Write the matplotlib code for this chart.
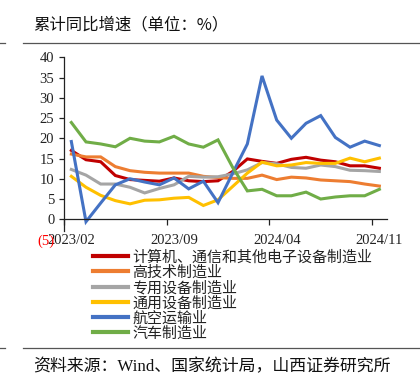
import matplotlib
matplotlib.use("Agg")
import matplotlib.pyplot as plt
from matplotlib.lines import Line2D

plt.rcParams['font.family'] = ['Noto Sans CJK SC', 'DejaVu Sans']

months = ["2023/02", "2023/03", "2023/04", "2023/05", "2023/06", "2023/07", "2023/08",
          "2023/09", "2023/10", "2023/11", "2023/12", "2024/01", "2024/02", "2024/03",
          "2024/04", "2024/05", "2024/06", "2024/07", "2024/08", "2024/09", "2024/10",
          "2024/11"]

computer = [17.0, 14.7, 14.2, 10.8, 9.8, 9.6, 9.4, 10.2, 9.5, 9.3, 9.5, 11.8, 14.9, 14.3,
            13.8, 14.8, 15.3, 14.6, 14.2, 13.2, 13.2, 12.6]
hightech = [16.1, 15.4, 15.4, 13.0, 12.0, 11.6, 11.4, 11.4, 11.4, 10.6, 10.3, 10.1, 10.1,
            10.9, 9.8, 10.4, 10.2, 9.7, 9.5, 9.3, 8.7, 8.2]
special = [12.3, 10.9, 8.7, 8.7, 7.9, 6.5, 7.6, 8.5, 10.6, 10.4, 10.5, 11.2, 12.2, 14.0,
           13.7, 12.8, 12.6, 13.4, 13.0, 12.1, 12.0, 11.8]
general = [10.6, 7.9, 5.9, 4.6, 3.8, 4.7, 4.8, 5.2, 5.4, 3.4, 4.8, 8.1, 11.4, 14.1, 13.2,
           13.4, 14.0, 13.8, 13.8, 15.1, 14.2, 15.1]
aviation = [19.2, -0.6, 4.0, 8.5, 10.0, 9.2, 8.5, 10.2, 7.5, 9.4, 4.1, 11.4, 18.6, 35.4,
            24.5, 20.0, 23.7, 25.6, 20.2, 17.8, 19.3, 18.2]
auto = [23.9, 19.1, 18.6, 17.9, 20.0, 19.3, 19.1, 20.5, 18.6, 17.8, 19.6, 12.8, 7.0, 7.4,
        5.8, 5.8, 6.7, 5.0, 5.5, 5.8, 5.8, 7.4]

series_names = ["计算机、通信和其他电子设备制造业", "高技术制造业", "专用设备制造业",
                "通用设备制造业", "航空运输业", "汽车制造业"]
series_values = [computer, hightech, special, general, aviation, auto]
series_colors = ["#C00000", "#ED7D31", "#A5A5A5", "#FFC000", "#4472C4", "#70AD47"]

yticks = [-5, 0, 5, 10, 15, 20, 25, 30, 35, 40]
ytick_labels = ["(5)", "0", "5", "10", "15", "20", "25", "30", "35", "40"]
xlabel_idx = [0, 7, 14, 21]

W, H = 420, 389
fig = plt.figure(figsize=(W / 100, H / 100), dpi=100)

ax = fig.add_axes([64 / W, 1 - 239.5 / H, (386.7 - 64) / W, (239.5 - 57.3) / H])
x = list(range(len(months)))
handles = []
for name, vals, col in zip(series_names, series_values, series_colors):
    h, = ax.plot(x, vals, color=col, lw=2.2, solid_joinstyle='miter', label=name)
    handles.append(h)

ax.set_xlim(-0.5, len(months) - 0.5)
ax.set_ylim(-5, 40)
for s in ["top", "right"]:
    ax.spines[s].set_visible(False)
ax.spines["bottom"].set_position(("data", 0))
ax.spines["left"].set_bounds(-2.9, 40)
for s in ["bottom", "left"]:
    ax.spines[s].set_color("#222222")
    ax.spines[s].set_linewidth(0.9)

serif = "Liberation Serif"
ax.set_yticks(yticks)
ax.set_yticklabels(ytick_labels, fontfamily=serif, fontsize=10.5, color="#222222")
ax.tick_params(axis="y", direction="out", length=3.6, width=0.9, pad=3.4, colors="#222222")
yt = ax.yaxis.get_major_ticks()
yt[0].tick1line.set_visible(False)
yt[0].label1.set_color("#FF0000")

ax.set_xticks([i - 0.5 for i in xlabel_idx])
ax.set_xticklabels([])
ax.set_xticks(xlabel_idx, minor=True)
ax.set_xticklabels([months[i] for i in xlabel_idx], minor=True, fontfamily=serif,
                   fontsize=10.5, color="#222222")
ax.tick_params(axis="x", which="major", direction="out", length=4, width=0.9, colors="#222222")
ax.tick_params(axis="x", which="minor", length=0, pad=10.5)

leg = fig.legend(handles=handles, loc="upper left", bbox_to_anchor=(93 / W, 1 - 250 / H),
                 frameon=False, fontsize=10.8, handlelength=2.3, handletextpad=0.33,
                 labelspacing=0.06, borderpad=0, borderaxespad=0)
for t in leg.get_texts():
    t.set_color("#222222")
for lh in leg.get_lines():
    lh.set_linewidth(3.0)

# title and separators
fig.text(33 / W, 1 - 25 / H, "累计同比增速（单位：%）", fontsize=11.8, va="center", ha="left",
         color="#111111", family=["Noto Sans CJK SC", "Liberation Serif"])
for yy in (43.3, 347.7):
    fig.add_artist(Line2D([23 / W, 1.0], [1 - yy / H] * 2, color="#555555", lw=0.9))
    fig.add_artist(Line2D([0, 5 / W], [1 - yy / H] * 2, color="#555555", lw=0.9))

fig.text(33 / W, 1 - 366.7 / H, "资料来源：Wind、国家统计局，山西证券研究所", fontsize=12.2,
         va="center", ha="left", color="#111111", family=["Liberation Serif", "Noto Sans CJK SC"])

fig.savefig("out.png", dpi=100)
